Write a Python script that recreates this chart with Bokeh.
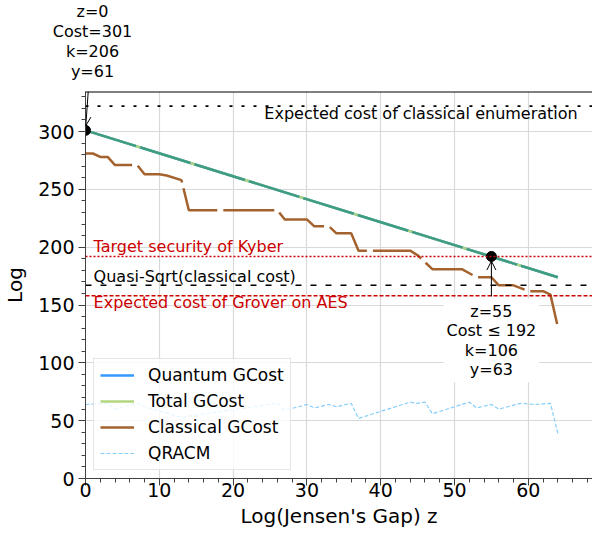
from bokeh.plotting import figure
from bokeh.models import (Range1d, Span, Label, Arrow, OpenHead, Legend, LegendItem,
                          SingleIntervalTicker, Title)
from bokeh.embed import file_html
from bokeh.resources import INLINE

# ---------------- data ----------------
z_total = [0, 64]
total_gcost = [301, 174]
quantum_gcost = [301, 174]

z_classical = [0, 1, 2, 3, 4, 7, 8, 10, 11, 13, 14, 26, 27, 30, 31, 33, 34, 36,
               37, 44, 45, 47, 51, 53, 55, 56, 58, 60, 62, 63, 64]
classical_gcost = [281, 281, 278, 278, 271, 271, 263, 263, 262, 258, 232, 232, 224,
                   224, 218, 218, 212, 212, 197, 197, 193, 181, 181, 174, 174, 167,
                   167, 162, 162, 159, 131]

z_qracm = [0, 3, 4, 7, 8, 13, 26, 27, 30, 31, 33, 34, 36, 37, 44, 45, 46, 47, 52,
           53, 55, 56, 59, 61, 63, 64]
qracm = [64, 65, 60, 65, 62, 53, 65, 59, 64, 61, 64, 62, 65, 52, 66, 65, 66, 56, 66,
         61, 64, 60, 65, 64, 65, 39]

ref_names = ["Expected cost of classical enumeration", "Target security of Kyber",
             "Quasi-Sqrt(classical cost)", "Expected cost of Grover on AES"]
ref_values = [322, 192, 167, 158]

annot_z = [0, 55]
annot_cost = [301, 192]
annot_rel = ["=", " \u2264 "]
annot_k = [206, 106]
annot_y = [61, 63]

FONT = "DejaVu Sans"
Y_TOP = 334.6

p = figure(width=592, height=530, output_backend="svg", toolbar_location=None,
           x_range=Range1d(0, 68.7), y_range=Range1d(0, Y_TOP),
           min_border_left=76, min_border_right=0, min_border_top=89,
           min_border_bottom=50)
p.outline_line_color = None
p.background_fill_color = "white"
p.border_fill_color = "white"

# axes
p.xaxis.ticker = SingleIntervalTicker(interval=10, num_minor_ticks=5)
p.yaxis.ticker = SingleIntervalTicker(interval=50, num_minor_ticks=5)
for ax in (p.xaxis[0], p.yaxis[0]):
    ax.axis_line_color = "#404040"
    ax.major_tick_line_color = "#404040"
    ax.minor_tick_line_color = "#404040"
    ax.major_tick_out = 7
    ax.major_tick_in = 0
    ax.minor_tick_out = 4
    ax.minor_tick_in = 0
    ax.major_label_text_font = FONT
    ax.major_label_text_font_size = "19px"
    ax.major_label_text_color = "black"
    ax.axis_label_text_font = FONT
    ax.axis_label_text_font_size = "20px"
    ax.axis_label_text_font_style = "normal"
    ax.axis_label_text_color = "black"
p.xaxis.axis_label = "Log(Jensen's Gap) z"
p.yaxis.axis_label = "Log"
p.xaxis.major_label_standoff = -3
p.yaxis.major_label_standoff = 4
p.xaxis.axis_label_standoff = 4
p.yaxis.axis_label_standoff = 8

p.grid.grid_line_color = "#d9d9d9"
p.grid.grid_line_width = 1.2

# top spine
p.add_layout(Span(location=Y_TOP, dimension="width", line_color="black",
                  line_width=2))

# reference lines
styles = [("black", "3 9", 1.8), ("#cc0000", "2 2", 1.5),
          ("black", "6 9", 1.5), ("#cc0000", "4 2", 1.5)]
for v, (c, d, w) in zip(ref_values, styles):
    p.add_layout(Span(location=v, dimension="width", line_color=c, line_dash=d,
                      line_width=w))

# series
r_q = p.line(z_total, quantum_gcost, color="#3399ff", line_width=2.5)
r_t = p.line(z_total, total_gcost, color="#b3d77f", line_width=2.5)
p.line(z_total, total_gcost, color="#3f9c84", line_width=2.5, line_dash="53 4")
r_c = p.line(z_classical, classical_gcost, color="#a3622e", line_width=2.5,
             line_dash="51 6")
r_r = p.line(z_qracm, qracm, color="#87cefa", line_width=1.2, line_dash="4 2")

p.scatter(annot_z, annot_cost, size=10, color="black")

# reference line labels
lab_specs = [(66.7, 316, "right", "black"), (1.1, 201, "left", "#cc0000"),
             (1.1, 175, "left", "black"), (1.1, 152, "left", "#cc0000")]
for name, (x, y, al, c) in zip(ref_names, lab_specs):
    p.add_layout(Label(x=x, y=y, text=name, text_align=al, text_baseline="middle",
                       text_font=FONT, text_font_size="16px", text_color=c))

# annotation above the plot (z=0 point): a small spacer, then one title per
# line, nearest line first
p.add_layout(Title(text=" ", text_font_size="8px", standoff=0), "above")
lines0 = [f"z={annot_z[0]}", f"Cost{annot_rel[0]}{annot_cost[0]}",
          f"k={annot_k[0]}", f"y={annot_y[0]}"]
widths0 = [32.0, 79.5, 53.2, 43.2]
for i in (3, 2, 1, 0):
    p.add_layout(Title(text=lines0[i], align="left", offset=7 - widths0[i] / 2,
                       text_font=FONT, text_font_size="16px",
                       text_font_style="normal", text_color="black",
                       standoff=-1), "above")

# annotation for z=55
text1 = (f"z={annot_z[1]}\nCost{annot_rel[1]}{annot_cost[1]}\n"
         f"k={annot_k[1]}\ny={annot_y[1]}")
p.add_layout(Label(x=annot_z[1], y=155.5, text=text1, text_align="center",
                   text_baseline="top", text_font=FONT, text_font_size="16px",
                   text_line_height=1.03, text_color="black",
                   background_fill_color="white", padding=3))
p.add_layout(Arrow(end=OpenHead(size=9, line_width=1, line_color="black"),
                   x_start=0.37, y_start=Y_TOP, x_end=0.04, y_end=305,
                   line_width=1, line_color="black"))
p.add_layout(Arrow(end=OpenHead(size=9, line_width=1, line_color="black"),
                   x_start=annot_z[1], y_start=157.5, x_end=annot_z[1], y_end=188,
                   line_width=1, line_color="black"))

legend = Legend(items=[LegendItem(label="Quantum GCost", renderers=[r_q]),
                       LegendItem(label="Total GCost", renderers=[r_t]),
                       LegendItem(label="Classical GCost", renderers=[r_c]),
                       LegendItem(label="QRACM", renderers=[r_r])],
                location="bottom_left", margin=8, padding=6, spacing=6,
                glyph_width=34, glyph_height=20, label_height=20,
                label_standoff=14, label_text_font=FONT,
                label_text_font_size="17px", label_text_color="black",
                border_line_color="#cccccc", background_fill_alpha=0.8)
p.add_layout(legend)

open("out.html", "w").write(file_html(p, INLINE))
